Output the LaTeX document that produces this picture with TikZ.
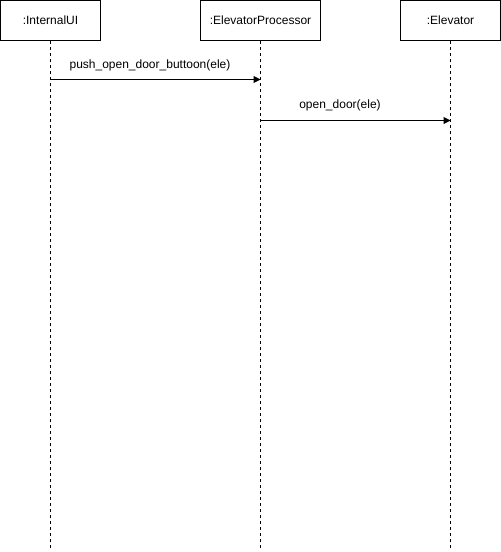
\documentclass[tikz,border=0pt]{standalone}
\usepackage{fontspec}
\setmainfont{Liberation Sans}
\usepackage{tikz}
\usetikzlibrary{positioning,calc,arrows.meta}

\tikzset{
    actor/.style={draw, line width=1pt, minimum height=40pt, inner sep=0pt, font=\fontsize{12}{14}\selectfont},
    lifeline/.style={line width=1pt, dash pattern=on 3pt off 3pt},
    msg/.style={line width=1pt, -{Triangle[length=7pt,width=7pt]}},
    msglabel/.style={font=\fontsize{12}{14}\selectfont, inner sep=0pt}
}

\begin{document}
\begin{tikzpicture}[x=1pt, y=-1pt]
    \useasboundingbox (0,0) rectangle (501,552);

    % Participants
    \node[actor, minimum width=100pt] (ui) at (50.5,20.5) {:InternalUI};
    \node[actor, minimum width=120pt] (proc) at (260.5,20.5) {:ElevatorProcessor};
    \node[actor, minimum width=100pt] (elev) at (450.5,20.5) {:Elevator};

    % Lifelines
    \coordinate (uiend) at (50.5,548);
    \coordinate (procend) at (260.5,548);
    \coordinate (elevend) at (450.5,548);
    \draw[lifeline] (ui.south) -- (uiend);
    \draw[lifeline] (proc.south) -- (procend);
    \draw[lifeline] (elev.south) -- (elevend);

    % Messages
    \coordinate (m1s) at (50.5,79.5);
    \coordinate (m1e) at (260.5,79.5);
    \draw[msg] (m1s) -- (m1e);
    \node[msglabel] (m1) at (150,65) {push\_open\_door\_buttoon(ele)};

    \coordinate (m2s) at (260.5,120.5);
    \coordinate (m2e) at (450.5,120.5);
    \draw[msg] (m2s) -- (m2e);
    \node[msglabel] (m2) at (340,105) {open\_door(ele)};
\end{tikzpicture}
\end{document}
